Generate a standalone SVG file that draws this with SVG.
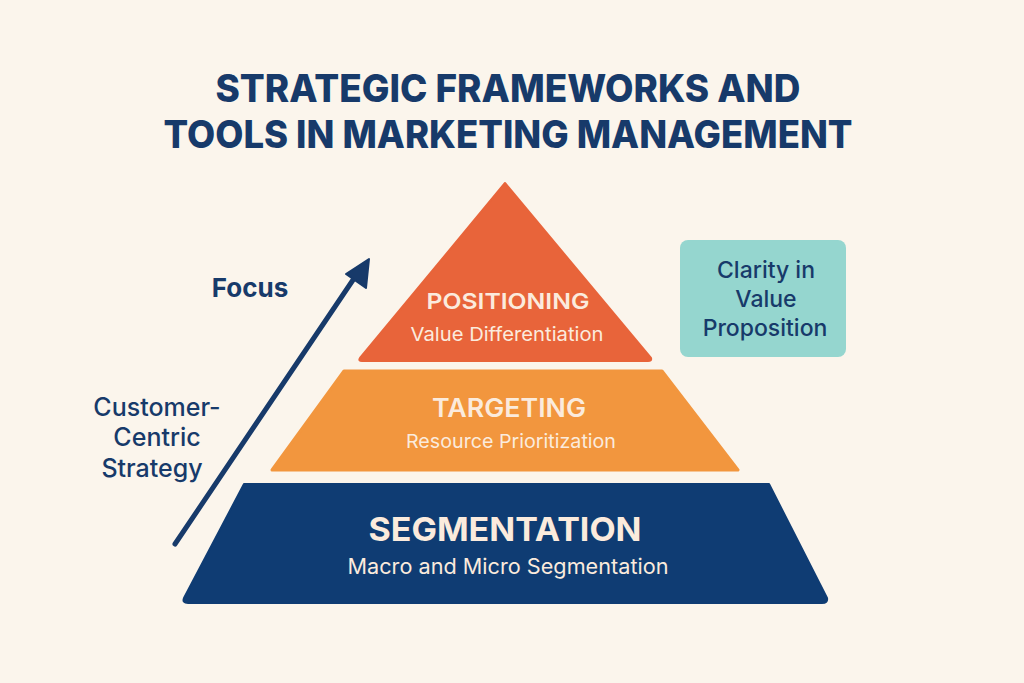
<svg xmlns="http://www.w3.org/2000/svg" width="1024" height="683" viewBox="0 0 1024 683">
<defs>
<style>
.title{font-family:Inter,"Liberation Sans",sans-serif;font-weight:800;font-size:38px;fill:#173A6A;text-anchor:middle}
.lbl{font-family:Inter,"Liberation Sans",sans-serif;fill:#173A6A;text-anchor:middle}
.in{font-family:Inter,"Liberation Sans",sans-serif;fill:#FBEBDD;text-anchor:middle}
</style>
</defs>
<rect width="1024" height="683" fill="#FBF5EC"/>
<g id="title">
<text class="title" x="508" y="102" textLength="585" lengthAdjust="spacingAndGlyphs">STRATEGIC FRAMEWORKS AND</text>
<text class="title" x="508" y="148" textLength="689" lengthAdjust="spacingAndGlyphs">TOOLS IN MARKETING MANAGEMENT</text>
</g>
<g id="positioning">
<path d="M505,183 L651,358 Q652,361 648,361 L362,361 Q358,361 360,358 Z" fill="#E8643A" stroke="#E8643A" stroke-width="2" stroke-linejoin="round"/>
<text class="in" x="508" y="309" font-size="22" font-weight="600" textLength="163" lengthAdjust="spacingAndGlyphs">POSITIONING</text>
<text class="in" x="507" y="341" font-size="19" textLength="193" lengthAdjust="spacingAndGlyphs">Value Differentiation</text>
</g>
<g id="targeting">
<path d="M344,371 L662,371 L738,470 L272,470 Z" fill="#F2963E" stroke="#F2963E" stroke-width="3" stroke-linejoin="round"/>
<text class="in" x="509" y="417" font-size="25" font-weight="600" textLength="154" lengthAdjust="spacingAndGlyphs">TARGETING</text>
<text class="in" x="511" y="448" font-size="19" textLength="210" lengthAdjust="spacingAndGlyphs">Resource Prioritization</text>
</g>
<g id="segmentation">
<path d="M244,484 L769,484 L827,598 Q828,603 822,603 L188,603 Q182,603 184,598 Z" fill="#0F3C73" stroke="#0F3C73" stroke-width="2" stroke-linejoin="round"/>
<text class="in" x="505" y="541" font-size="33" font-weight="700" fill="#FFFFFF" textLength="273" lengthAdjust="spacingAndGlyphs">SEGMENTATION</text>
<text class="in" x="508" y="574" font-size="21" textLength="321" lengthAdjust="spacingAndGlyphs">Macro and Micro Segmentation</text>
</g>
<g id="value-box">
<rect x="680" y="240" width="166" height="117" rx="8" fill="#95D6CF"/>
<text class="lbl" x="766" y="278" font-size="23" font-weight="500">Clarity in</text>
<text class="lbl" x="766" y="307" font-size="23" font-weight="500">Value</text>
<text class="lbl" x="765" y="336" font-size="23" font-weight="500">Proposition</text>
</g>
<g id="labels">
<text class="lbl" x="250" y="297" font-size="26" font-weight="700">Focus</text>
<text class="lbl" x="157" y="416" font-size="25" font-weight="500">Customer-</text>
<text class="lbl" x="157" y="446" font-size="25" font-weight="500">Centric</text>
<text class="lbl" x="152" y="477" font-size="25" font-weight="500">Strategy</text>
</g>
<g id="connectors">
<line x1="175" y1="544" x2="357" y2="274" stroke="#173A6A" stroke-width="5" stroke-linecap="round"/>
<path d="M369,259 L366,288 L346,274 Z" fill="#173A6A" stroke="#173A6A" stroke-width="2" stroke-linejoin="round"/>
</g>
</svg>
